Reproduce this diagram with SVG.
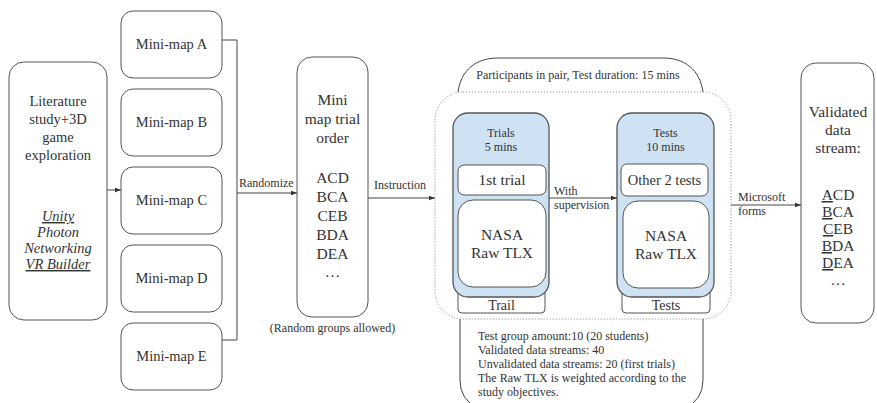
<svg xmlns="http://www.w3.org/2000/svg" width="877" height="403" viewBox="0 0 877 403" font-family="'Liberation Serif','Times New Roman',serif">
<defs>
<style>
text{font-family:"Liberation Serif","Times New Roman",serif;fill:#333}
.m{font-size:14.5px;text-anchor:middle}
.l{font-size:15.5px;text-anchor:middle}
.s{font-size:12px}
.sc{font-size:12px;text-anchor:middle}
.it{font-style:italic}
.u{text-decoration:underline}
.box{fill:#fff;stroke:#555;stroke-width:1}
.blue{fill:#cfe2f3;stroke:#555;stroke-width:1.3}
.ln{fill:none;stroke:#444;stroke-width:1}
.dot{fill:none;stroke:#999;stroke-width:1;stroke-dasharray:1.2 1.8}
</style>
<marker id="ah" viewBox="0 0 6 6" refX="6" refY="3" markerWidth="6" markerHeight="6" orient="auto" markerUnits="userSpaceOnUse">
<path d="M0,0.8 L6,3 L0,5.2 Z" fill="#333"/>
</marker>
</defs>
<rect width="877" height="403" fill="#fff"/>

<g id="source">
<rect class="box" x="9" y="62" width="98" height="258" rx="15"/>
<text class="m" x="58" y="106">Literature</text>
<text class="m" x="58" y="124">study+3D</text>
<text class="m" x="58" y="142">game</text>
<text class="m" x="58" y="160">exploration</text>
<text class="m it u" x="58" y="221">Unity</text>
<text class="m it" x="58" y="237">Photon</text>
<text class="m it" x="58" y="253">Networking</text>
<text class="m it u" x="58" y="269">VR Builder</text>
</g>

<g id="minimap-a"><rect class="box" x="121" y="11" width="101" height="67" rx="12"/><text class="m" x="171.5" y="49">Mini-map A</text></g>
<g id="minimap-b"><rect class="box" x="121" y="89" width="101" height="67" rx="12"/><text class="m" x="171.5" y="127">Mini-map B</text></g>
<g id="minimap-c"><rect class="box" x="121" y="167" width="101" height="67" rx="12"/><text class="m" x="171.5" y="205">Mini-map C</text></g>
<g id="minimap-d"><rect class="box" x="121" y="245" width="101" height="67" rx="12"/><text class="m" x="171.5" y="283">Mini-map D</text></g>
<g id="minimap-e"><rect class="box" x="121" y="323" width="101" height="67" rx="12"/><text class="m" x="171.5" y="361">Mini-map E</text></g>

<g id="trial-order">
<rect class="box" x="297" y="57" width="71" height="260" rx="15"/>
<text class="l" x="332.5" y="105">Mini</text>
<text class="l" x="332.5" y="124">map trial</text>
<text class="l" x="332.5" y="143">order</text>
<text class="l" x="332.5" y="183">ACD</text>
<text class="l" x="332.5" y="202">BCA</text>
<text class="l" x="332.5" y="221">CEB</text>
<text class="l" x="332.5" y="240">BDA</text>
<text class="l" x="332.5" y="259">DEA</text>
<text class="l" x="332.5" y="277">…</text>
<text class="sc" x="332.5" y="332">(Random groups allowed)</text>
</g>

<g id="session">
<path class="ln" d="M458,92 C461,70 476,58 498,58 H663 C685,58 700,70 703,92"/>
<text class="sc" x="578" y="79">Participants in pair, Test duration: 15 mins</text>
<rect class="dot" x="435" y="92" width="296" height="227" rx="28"/>
<path class="ln" d="M460,319 V380 Q460,400 478,408"/>
<path class="ln" d="M703,319 V380 Q703,400 685,408"/>
<text class="s" x="478" y="340">Test group amount:10 (20 students)</text>
<text class="s" x="478" y="354">Validated data streams: 40</text>
<text class="s" x="478" y="368">Unvalidated data streams: 20 (first trials)</text>
<text class="s" x="478" y="382">The Raw TLX is weighted according to the</text>
<text class="s" x="478" y="396">study objectives.</text>
</g>

<g id="trials">
<rect class="box" x="458" y="285" width="87" height="28" rx="4"/>
<text class="l" x="501.5" y="310" style="font-size:14px">Trail</text>
<rect class="blue" x="453" y="113" width="96" height="184" rx="15"/>
<text class="sc" x="501" y="137">Trials</text>
<text class="sc" x="501" y="151">5 mins</text>
<rect class="box" x="458" y="165" width="88" height="30" rx="6"/>
<text class="l" x="502" y="185">1st trial</text>
<rect class="box" x="458" y="200" width="88" height="87" rx="15"/>
<text class="l" x="502" y="240">NASA</text>
<text class="l" x="502" y="258">Raw TLX</text>
</g>

<g id="tests">
<rect class="box" x="622" y="285" width="88" height="28" rx="4"/>
<text class="l" x="666" y="310" style="font-size:14px">Tests</text>
<rect class="blue" x="617" y="113" width="97" height="184" rx="15"/>
<text class="sc" x="665.5" y="137">Tests</text>
<text class="sc" x="665.5" y="151">10 mins</text>
<rect class="box" x="621" y="164" width="87" height="32" rx="6"/>
<text class="m" x="664.5" y="185">Other 2 tests</text>
<rect class="box" x="623" y="201" width="86" height="87" rx="15"/>
<text class="l" x="666" y="241">NASA</text>
<text class="l" x="666" y="259">Raw TLX</text>
</g>

<g id="validated">
<rect class="box" x="801" y="63" width="73" height="260" rx="15"/>
<text class="l" x="838" y="117">Validated</text>
<text class="l" x="838" y="135">data</text>
<text class="l" x="838" y="153">stream:</text>
<text class="l" x="838" y="200"><tspan class="u">A</tspan>CD</text>
<text class="l" x="838" y="217"><tspan class="u">B</tspan>CA</text>
<text class="l" x="838" y="234"><tspan class="u">C</tspan>EB</text>
<text class="l" x="838" y="251"><tspan class="u">B</tspan>DA</text>
<text class="l" x="838" y="268"><tspan class="u">D</tspan>EA</text>
<text class="l" x="838" y="285">…</text>
</g>

<g id="connectors">
<path class="ln" d="M107,190 H121" marker-end="url(#ah)"/>
<path class="ln" d="M222,40 H237 V340 H222"/>
<path class="ln" d="M237,193 H297" marker-end="url(#ah)"/>
<text class="s" x="239" y="187">Randomize</text>
<path class="ln" d="M368,198 H435" marker-end="url(#ah)"/>
<text class="s" x="374" y="189">Instruction</text>
<path class="ln" d="M549,198 H617" marker-end="url(#ah)"/>
<text class="s" x="554" y="195">With</text>
<text class="s" x="554" y="209">supervision</text>
<path class="ln" d="M731,205 H801" marker-end="url(#ah)"/>
<text class="s" x="738" y="201">Microsoft</text>
<text class="s" x="738" y="215">forms</text>
</g>
</svg>
